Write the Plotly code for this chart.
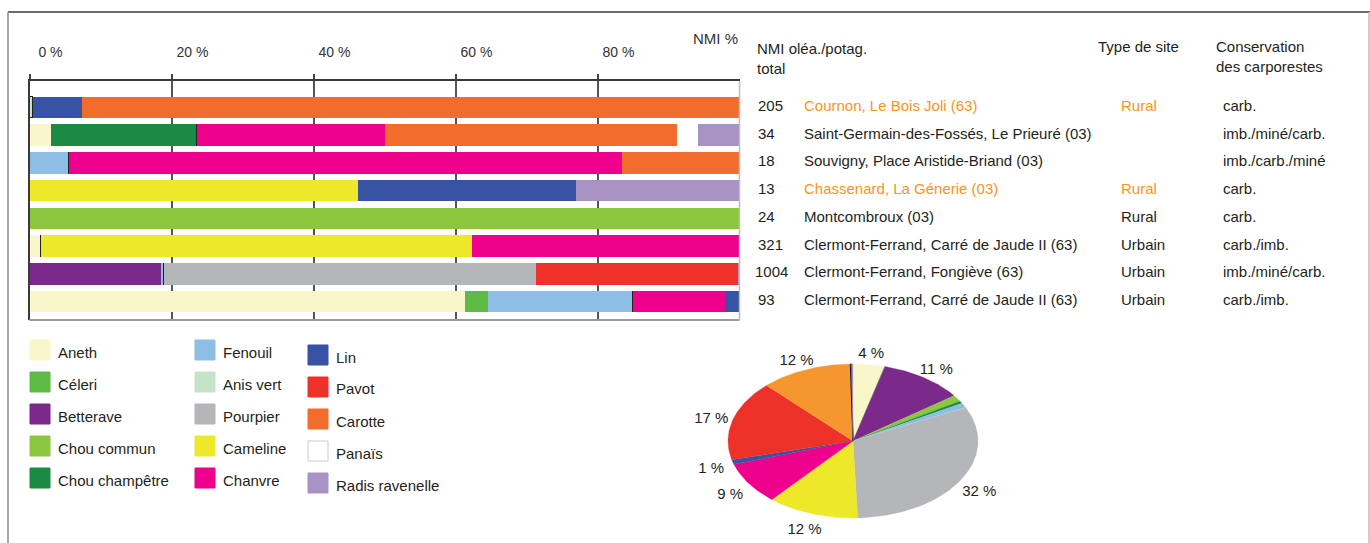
import numpy as np
import plotly.graph_objects as go

# ---------------------------------------------------------------- data
sites = [
    "Cournon, Le Bois Joli (63)",
    "Saint-Germain-des-Fossés, Le Prieuré (03)",
    "Souvigny, Place Aristide-Briand (03)",
    "Chassenard, La Génerie (03)",
    "Montcombroux (03)",
    "Clermont-Ferrand, Carré de Jaude II (63)",
    "Clermont-Ferrand, Fongiève (63)",
    "Clermont-Ferrand, Carré de Jaude II (63)",
]
nmi_total = [205, 34, 18, 13, 24, 321, 1004, 93]
site_type = ["Rural", "", "", "Rural", "Rural", "Urbain", "Urbain", "Urbain"]
conservation = ["carb.", "imb./miné/carb.", "imb./carb./miné", "carb.", "carb.",
                "carb./imb.", "imb./miné/carb.", "carb./imb."]
rural_highlight = ["Cournon, Le Bois Joli (63)", "Chassenard, La Génerie (03)"]

taxa = ["Aneth", "Céleri", "Betterave", "Chou commun", "Chou champêtre",
        "Fenouil", "Anis vert", "Pourpier", "Cameline", "Chanvre",
        "Lin", "Pavot", "Carotte", "Panaïs", "Radis ravenelle"]

# NMI per taxon, one value per site (same order as `sites`)
aneth = [0, 1, 0, 0, 0, 5, 0, 57]
celeri = [0, 0, 0, 0, 0, 0, 0, 3]
betterave = [0, 0, 0, 0, 0, 0, 185, 0]
chou_commun = [0, 0, 0, 0, 24, 0, 0, 0]
chou_champetre = [0, 7, 0, 0, 0, 0, 0, 0]
fenouil = [0, 0, 1, 0, 0, 0, 5, 19]
anis_vert = [1, 0, 0, 0, 0, 0, 0, 0]
pourpier = [0, 0, 0, 0, 0, 0, 526, 0]
cameline = [0, 0, 0, 6, 0, 195, 0, 0]
chanvre = [0, 9, 14, 0, 0, 121, 0, 12]
lin = [14, 0, 0, 4, 0, 0, 0, 2]
pavot = [0, 0, 0, 0, 0, 0, 286, 0]
carotte = [190, 14, 3, 0, 0, 0, 0, 0]
panais = [0, 1, 0, 0, 0, 0, 0, 0]
radis_ravenelle = [0, 2, 0, 3, 0, 0, 2, 0]

# share of each taxon over all sites (%), same order as `taxa`
pie_pct = [4, 0.2, 11, 1.4, 0.5, 1.0, 0.05, 32, 12, 9, 1, 17, 12, 0.15, 0.2]
pie_text = ["4 %", "", "11 %", "", "", "", "", "32 %", "12 %", "9 %",
            "1 %", "17 %", "12 %", "", ""]

x_ticks = [0, 20, 40, 60, 80]
x_ticktext = ["0 %", "20 %", "40 %", "60 %", "80 %"]

# ---------------------------------------------------------------- styles
colors = {
    "Aneth": "#F9F7C9", "Céleri": "#5FBA46", "Betterave": "#7B2A8B",
    "Chou commun": "#8DC63F", "Chou champêtre": "#1B8A44", "Fenouil": "#8EBEE6",
    "Anis vert": "#C5E3C6", "Pourpier": "#B5B6B9", "Cameline": "#EDE829",
    "Chanvre": "#EC008C", "Lin": "#3853A4", "Pavot": "#EE3129",
    "Carotte": "#F26C2D", "Panaïs": "#FFFFFF", "Radis ravenelle": "#A993C4",
}
pie_colors = dict(colors, Carotte="#F6962F")
TEXT = "#231F20"
ORANGE = "#F7941D"
FONT = "Liberation Sans, Arial, sans-serif"
TABLE_SIZE = 15

W, H = 1370, 543


def px(x):
    return x / W


def py(y):
    return 1 - y / H


counts = [aneth, celeri, betterave, chou_commun, chou_champetre, fenouil,
          anis_vert, pourpier, cameline, chanvre, lin, pavot, carotte,
          panais, radis_ravenelle]
rows = list(range(len(sites)))

fig = go.Figure()

# ---------------------------------------------------------------- stacked bars
for name, vals in zip(taxa, counts):
    pct = [100.0 * v / t for v, t in zip(vals, nmi_total)]
    outlined = name == "Anis vert"
    fig.add_trace(go.Bar(
        x=pct, y=rows, orientation="h", width=0.78, name=name,
        marker=dict(color=colors[name],
                    line=dict(color="#222222" if outlined else colors[name],
                              width=1 if outlined else 0)),
        xaxis="x", yaxis="y", hovertemplate=name + ": %{x:.1f} %<extra></extra>",
    ))

# ---------------------------------------------------------------- pie (elliptic)
fracs = np.array(pie_pct, dtype=float)
fracs = fracs / fracs.sum()
cum = np.concatenate([[0.0], np.cumsum(fracs)])
lab_x, lab_y, lab_t = [], [], []
for i, name in enumerate(taxa):
    a0, a1 = 2 * np.pi * cum[i], 2 * np.pi * cum[i + 1]
    n = max(3, int((a1 - a0) / (2 * np.pi) * 360))
    t = np.linspace(a0, a1, n)
    xs = np.concatenate([[0.0], np.sin(t), [0.0]])
    ys = np.concatenate([[0.0], np.cos(t), [0.0]])
    is_white = name == "Panaïs"
    fig.add_trace(go.Scatter(
        x=xs, y=ys, mode="lines", fill="toself",
        fillcolor=pie_colors[name],
        line=dict(color="#111111" if is_white else pie_colors[name],
                  width=1 if is_white else 0.3),
        xaxis="x2", yaxis="y2", hoverinfo="text", text=name,
    ))
    if pie_text[i]:
        mid = 0.5 * (a0 + a1)
        lab_x.append(1.18 * np.sin(mid))
        lab_y.append(1.18 * np.cos(mid) - 0.05)
        lab_t.append(pie_text[i])

fig.add_trace(go.Scatter(
    x=lab_x, y=lab_y, text=lab_t, mode="text",
    textfont=dict(size=15, color=TEXT, family=FONT),
    xaxis="x2", yaxis="y2", hoverinfo="skip",
))

# ---------------------------------------------------------------- axes
bar_top, bar_bottom = 81, 320
fig.update_layout(
    width=W, height=H,
    margin=dict(l=0, r=0, t=0, b=0),
    paper_bgcolor="white", plot_bgcolor="white",
    showlegend=False, barmode="stack", bargap=0,
    font=dict(family=FONT, color=TEXT, size=TABLE_SIZE),
    xaxis=dict(
        domain=[px(29.5), px(739.5)], range=[0, 100], side="top",
        tickvals=x_ticks, ticktext=x_ticktext,
        tickfont=dict(size=14, color="#333333"),
        ticks="outside", ticklen=5, tickcolor="#444444", tickwidth=1.5,
        ticklabelstandoff=12, ticklabelshift=21,
        showgrid=True, gridcolor="#555555", gridwidth=1.5,
        showline=True, linecolor="#3A3A3A", linewidth=1.5,
        zeroline=False, fixedrange=True,
    ),
    yaxis=dict(
        domain=[py(bar_bottom), py(bar_top)], range=[7.67, -0.96],
        showticklabels=False, ticks="", showgrid=False, zeroline=False,
        showline=True, linecolor="#3A3A3A", linewidth=1.5, fixedrange=True,
    ),
    xaxis2=dict(
        domain=[px(853 - 162.5), px(853 + 162.5)], range=[-1.3, 1.3],
        visible=False, fixedrange=True,
    ),
    yaxis2=dict(
        domain=[py(441 + 100.1), py(441 - 100.1)], range=[-1.3, 1.3],
        visible=False, fixedrange=True,
    ),
)

shapes = [
    # bottom and right edges of the bar panel
    dict(type="line", xref="x domain", yref="y domain", x0=0, x1=1, y0=0, y1=0,
         line=dict(color="#9A9A9A", width=2)),
    dict(type="line", xref="x domain", yref="y domain", x0=1, x1=1, y0=0, y1=1,
         line=dict(color="#BDBDBD", width=1.5)),
    # outer frame
    dict(type="line", xref="paper", yref="paper", x0=px(8), x1=1, y0=py(12), y1=py(12),
         line=dict(color="#3A3A3A", width=1.3)),
    dict(type="line", xref="paper", yref="paper", x0=px(8), x1=px(8), y0=0, y1=py(12),
         line=dict(color="#8A8A8A", width=1.5)),
    dict(type="line", xref="paper", yref="paper", x0=px(1369), x1=px(1369), y0=0, y1=py(12),
         line=dict(color="#BBBBBB", width=1.5)),
]

annotations = [
    dict(text="NMI %", x=px(740), y=py(38), xref="paper", yref="paper",
         xanchor="right", yanchor="middle", showarrow=False,
         font=dict(size=15, color="#333333")),
    dict(text="NMI oléa./potag.<br>total", x=px(755), y=py(38), xref="paper",
         yref="paper", xanchor="left", yanchor="top", align="left",
         showarrow=False, font=dict(size=TABLE_SIZE)),
    dict(text="Type de site", x=px(1096), y=py(46), xref="paper", yref="paper",
         xanchor="left", yanchor="middle", showarrow=False,
         font=dict(size=TABLE_SIZE)),
    dict(text="Conservation<br>des carporestes", x=px(1214), y=py(36),
         xref="paper", yref="paper", xanchor="left", yanchor="top",
         align="left", showarrow=False, font=dict(size=TABLE_SIZE)),
]

# table of sites, one line per bar
for r, (site, tot, typ, cons) in enumerate(zip(sites, nmi_total, site_type, conservation)):
    hl = site in rural_highlight and r in (0, 3)
    col = ORANGE if hl else TEXT
    common = dict(xref="paper", yref="y", y=r, yshift=2, xanchor="left",
                  yanchor="middle", showarrow=False)
    annotations.append(dict(text=str(tot), x=px(756 if tot < 1000 else 753),
                            font=dict(size=TABLE_SIZE, color=TEXT), **common))
    annotations.append(dict(text=site, x=px(802),
                            font=dict(size=TABLE_SIZE, color=col), **common))
    if typ:
        annotations.append(dict(text=typ, x=px(1119),
                                font=dict(size=TABLE_SIZE, color=col), **common))
    annotations.append(dict(text=cons, x=px(1221),
                            font=dict(size=TABLE_SIZE, color=TEXT), **common))

# colour key, three columns of five entries
col_x = [30, 195, 308]
col_y0 = [340, 340, 345]
for i, name in enumerate(taxa):
    c, k = divmod(i, 5)
    x0, y0 = col_x[c], col_y0[c] + 32 * k
    edge = "#CCCCCC" if name == "Panaïs" else colors[name]
    shapes.append(dict(type="rect", xref="paper", yref="paper",
                       x0=px(x0), x1=px(x0 + 20), y0=py(y0 + 20), y1=py(y0),
                       fillcolor=colors[name], line=dict(color=edge, width=1)))
    annotations.append(dict(text=name, x=px(x0 + 26), y=py(y0 + 12),
                            xref="paper", yref="paper", xanchor="left",
                            yanchor="middle", showarrow=False,
                            font=dict(size=15, color=TEXT)))

fig.update_layout(shapes=shapes, annotations=annotations)

fig.write_html("out.html", config={"displayModeBar": False})
